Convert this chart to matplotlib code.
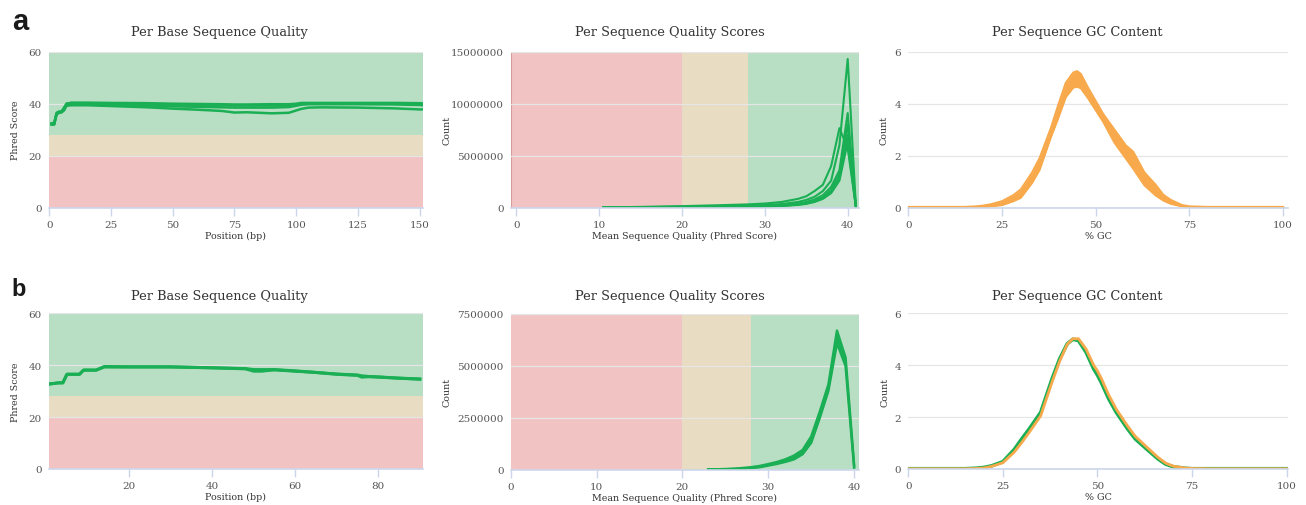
import numpy as np
import matplotlib.pyplot as plt
from matplotlib.ticker import FixedLocator

plt.rcParams['font.family'] = ['DejaVu Serif']

# ---- data -------------------------------------------------------------
# a: per base sequence quality (4 sample groups)
a_pos = [1, 2, 3, 4, 5, 6, 7, 9, 15, 25, 40, 50, 60, 70, 75, 80, 90, 97, 100, 102, 105, 110, 125, 140, 150, 151]
a_qual_1 = [32, 32, 36, 36.5, 36.7, 37.5, 40, 40.2, 40.2, 40.1, 39.9, 39.7, 39.6, 39.4, 39.3, 39.3, 39.3, 39.4, 39.7, 40, 40.1, 40.1, 40.1, 40.1, 40, 39.9]
a_qual_2 = [32.3, 32.3, 36.3, 36.8, 37, 38, 39.5, 39.8, 39.8, 39.6, 39.3, 39.0, 38.8, 38.6, 38.5, 38.5, 38.5, 38.7, 39.2, 39.6, 39.8, 39.8, 39.8, 39.7, 39.5, 39.4]
a_qual_3 = [32, 32, 36, 36.5, 36.7, 37.5, 39.2, 39.4, 39.4, 39.1, 38.6, 38.1, 37.7, 37.2, 36.6, 36.7, 36.3, 36.5, 37.4, 38.0, 38.5, 38.6, 38.5, 38.2, 37.8, 37.8]
a_qual_4 = [32.5, 32.5, 36.5, 37, 37, 38.5, 40, 40.4, 40.4, 40.3, 40.2, 40, 39.9, 39.8, 39.7, 39.7, 39.8, 39.8, 40, 40.3, 40.3, 40.3, 40.3, 40.3, 40.2, 40.1]

# a: per sequence quality scores (counts in millions)
a_score = [10.5, 15, 20, 25, 28, 30, 32, 34, 35, 36, 37, 38, 39, 40, 41]
a_count_1 = [0.03, 0.08, 0.15, 0.25, 0.32, 0.4, 0.55, 0.85, 1.1, 1.6, 2.2, 4.0, 7.65, 5.7, 0.02]
a_count_2 = [0.02, 0.05, 0.1, 0.15, 0.2, 0.25, 0.35, 0.55, 0.75, 1.05, 1.6, 2.6, 6.0, 14.3, 0.02]
a_count_3 = [0.01, 0.03, 0.06, 0.1, 0.13, 0.17, 0.25, 0.4, 0.55, 0.8, 1.2, 2.0, 3.6, 9.1, 0.02]
a_count_4 = [0.01, 0.03, 0.05, 0.08, 0.11, 0.14, 0.2, 0.33, 0.45, 0.65, 1.0, 1.7, 3.2, 8.0, 0.02]
a_count_5 = [0.01, 0.02, 0.04, 0.07, 0.1, 0.12, 0.18, 0.3, 0.4, 0.6, 0.9, 1.5, 2.8, 7.0, 0.02]
a_count_6 = [0.01, 0.02, 0.04, 0.06, 0.09, 0.11, 0.16, 0.27, 0.37, 0.55, 0.85, 1.4, 2.6, 6.3, 0.02]

# a: per sequence GC content (envelope of all samples)
a_gc = [0, 10, 15, 18, 20, 22, 25, 28, 30, 33, 35, 38, 40, 42, 44, 45, 46, 48, 50, 52, 55, 58, 60, 63, 66, 68, 70, 73, 75, 80, 90, 100]
a_gc_hi = [0.03, 0.03, 0.03, 0.05, 0.08, 0.13, 0.25, 0.48, 0.7, 1.35, 1.9, 3.05, 3.95, 4.8, 5.2, 5.25, 5.15, 4.6, 4.1, 3.6, 3.0, 2.4, 2.15, 1.35, 0.88, 0.5, 0.3, 0.1, 0.05, 0.03, 0.03, 0.03]
a_gc_lo = [0.0, 0.0, 0.0, 0.01, 0.02, 0.05, 0.1, 0.25, 0.38, 0.95, 1.45, 2.7, 3.45, 4.25, 4.62, 4.65, 4.6, 4.2, 3.75, 3.3, 2.5, 1.9, 1.5, 0.86, 0.47, 0.28, 0.15, 0.05, 0.02, 0.0, 0.0, 0.0]

# b: per base sequence quality
b_pos = [1, 3, 4, 5, 8, 9, 12, 14, 20, 30, 40, 48, 50, 52, 53, 55, 60, 65, 70, 75, 76, 78, 80, 85, 90]
b_qual_1 = [32.8, 33.2, 33.2, 36.5, 36.5, 38.1, 38.1, 39.5, 39.4, 39.4, 39.0, 38.6, 37.7, 37.7, 37.9, 38.2, 37.7, 37.2, 36.5, 36.1, 35.4, 35.6, 35.4, 35.0, 34.6]
b_qual_2 = [32.8, 33.2, 33.2, 36.5, 36.5, 38.1, 38.1, 39.3, 39.3, 39.3, 39.0, 38.7, 38.3, 38.3, 38.3, 38.3, 37.8, 37.2, 36.6, 36.2, 35.9, 35.6, 35.5, 35.0, 34.7]

# b: per sequence quality scores (millions)
b_score = [23, 24, 25, 26, 27, 28, 29, 30, 31, 32, 33, 34, 35, 36, 37, 38, 39, 40]
b_count_hi = [0.02, 0.02, 0.03, 0.05, 0.08, 0.12, 0.18, 0.27, 0.37, 0.5, 0.68, 0.95, 1.6, 2.8, 4.1, 6.7, 5.4, 0.2]
b_count_lo = [0.01, 0.01, 0.02, 0.03, 0.05, 0.08, 0.12, 0.2, 0.28, 0.38, 0.5, 0.75, 1.3, 2.5, 3.8, 6.1, 5.0, 0.1]

# b: per sequence GC content
b_gc = [0, 10, 15, 18, 20, 22, 25, 28, 30, 32, 35, 38, 40, 42, 43.5, 45, 47, 49, 50, 51, 53, 55, 58, 60, 63, 66, 68, 70, 73, 75, 80, 90, 100]
b_gc_green = [0.01, 0.01, 0.01, 0.03, 0.06, 0.12, 0.28, 0.75, 1.16, 1.55, 2.18, 3.47, 4.24, 4.82, 5.0, 4.95, 4.5, 3.86, 3.62, 3.34, 2.7, 2.18, 1.54, 1.16, 0.77, 0.39, 0.19, 0.09, 0.03, 0.01, 0.01, 0.01, 0.01]
b_gc_orange = [0.01, 0.01, 0.01, 0.02, 0.04, 0.1, 0.24, 0.65, 1.02, 1.42, 2.05, 3.35, 4.15, 4.8, 5.02, 5.02, 4.62, 4.0, 3.78, 3.5, 2.85, 2.3, 1.65, 1.26, 0.85, 0.45, 0.23, 0.11, 0.04, 0.02, 0.01, 0.01, 0.01]

# ---- style ------------------------------------------------------------
GREEN = '#1aaf54'
ORANGE = '#f7a94b'
BAND_G = '#b8dfc3'
BAND_T = '#e8dcc3'
BAND_R = '#f2c3c3'
GRID = '#e6e6e6'
AXLINE = '#ccd6eb'

fig = plt.figure(figsize=(13.06, 5.06), dpi=100)
W, H = 1306.0, 506.0


def add_ax(l, r, t, b):
    return fig.add_axes([l / W, 1 - b / H, (r - l) / W, (b - t) / H])


def style(ax, box, title, tpos, xlabel, ylabel, ylab_x, xt, yt, xlim, ylim, ylabels=None):
    l, r, t, b = box
    ax.set_xlim(*xlim)
    ax.set_ylim(*ylim)
    for s in ['top', 'right', 'left']:
        ax.spines[s].set_visible(False)
    ax.spines['bottom'].set_color(AXLINE)
    ax.spines['bottom'].set_linewidth(1.2)
    ax.spines['bottom'].set_zorder(5)
    ax.xaxis.set_major_locator(FixedLocator(xt))
    ax.set_yticks(yt)
    if ylabels is not None:
        ax.set_yticklabels(ylabels)
    ax.tick_params(axis='x', colors=AXLINE, length=6, width=1, labelcolor='#555555', labelsize=7.5, pad=2.5)
    ax.tick_params(axis='y', length=0, labelcolor='#555555', labelsize=7.5, pad=5)
    ax.grid(axis='y', color=GRID, lw=0.9)
    ax.set_axisbelow(True)
    fig.text(tpos[0] / W, 1 - tpos[1] / H, title, fontsize=9.3, color='#333333', ha='center', va='baseline')
    ax.set_xlabel(xlabel, fontsize=6.8, color='#333333', labelpad=1.5)
    ax.set_ylabel(ylabel, fontsize=6.8, color='#333333')
    # ylabel is anchored by its right-hand side, shift so its centre sits at ylab_x
    ax.yaxis.set_label_coords((ylab_x + 4.5 - l) / (r - l), 0.5)


# ---- row a ------------------------------------------------------------
box = (48.7, 422.7, 52.7, 208.7)
ax = add_ax(*box)
ax.axhspan(28, 60, color=BAND_G, zorder=0.1, lw=0)
ax.axhspan(20, 28, color=BAND_T, zorder=0.1, lw=0)
ax.axhspan(0, 20, color=BAND_R, zorder=0.1, lw=0)
for q in [a_qual_3, a_qual_2, a_qual_1, a_qual_4]:
    ax.plot(a_pos, q, color=GREEN, lw=1.8)
style(ax, box, 'Per Base Sequence Quality', (219, 36.3), 'Position (bp)', 'Phred Score', 16,
      [0, 25, 50, 75, 100, 125, 150], [0, 20, 40, 60], (-0.2, 151.2), (0, 60))

box = (510.7, 859.3, 52.7, 208.7)
ax = add_ax(*box)
ax.axvspan(-1, 20, color=BAND_R, zorder=0.1, lw=0)
ax.axvspan(20, 28, color=BAND_T, zorder=0.1, lw=0)
ax.axvspan(28, 45, color=BAND_G, zorder=0.1, lw=0)
ax.axvline(-0.62, color='#d69a9a', lw=1.5, zorder=0.2)
for c in [a_count_6, a_count_5, a_count_4, a_count_3, a_count_1, a_count_2]:
    ax.plot(a_score, np.array(c) * 1e6, color=GREEN, lw=1.5)
style(ax, box, 'Per Sequence Quality Scores', (670, 36.3), 'Mean Sequence Quality (Phred Score)', 'Count', 447,
      [0, 10, 20, 30, 40], [0, 5e6, 10e6, 15e6], (-0.68, 41.4), (0, 15e6),
      ['0', '5000000', '10000000', '15000000'])

box = (908.3, 1287.7, 52.7, 208.7)
ax = add_ax(*box)
ax.fill_between(a_gc, a_gc_lo, a_gc_hi, color=ORANGE, lw=0)
ax.plot(a_gc, a_gc_hi, color=ORANGE, lw=1.5)
ax.plot(a_gc, a_gc_lo, color=ORANGE, lw=1.5)
style(ax, box, 'Per Sequence GC Content', (1077, 36.3), '% GC', 'Count', 884,
      [0, 25, 50, 75, 100], [0, 2, 4, 6], (0, 101.2), (0, 6))

# ---- row b ------------------------------------------------------------
box = (48.7, 422.7, 314.3, 470)
ax = add_ax(*box)
ax.axhspan(28, 60, color=BAND_G, zorder=0.1, lw=0)
ax.axhspan(20, 28, color=BAND_T, zorder=0.1, lw=0)
ax.axhspan(0, 20, color=BAND_R, zorder=0.1, lw=0)
ax.plot(b_pos, b_qual_2, color=GREEN, lw=2.2)
ax.plot(b_pos, b_qual_1, color=GREEN, lw=2.2)
style(ax, box, 'Per Base Sequence Quality', (219, 300), 'Position (bp)', 'Phred Score', 16,
      [20, 40, 60, 80], [0, 20, 40, 60], (0.6, 90.7), (0, 60))

box = (510.7, 859.3, 315, 470.7)
ax = add_ax(*box)
ax.axvspan(-1, 20, color=BAND_R, zorder=0.1, lw=0)
ax.axvspan(20, 28, color=BAND_T, zorder=0.1, lw=0)
ax.axvspan(28, 45, color=BAND_G, zorder=0.1, lw=0)
ax.fill_between(b_score, np.array(b_count_lo) * 1e6, np.array(b_count_hi) * 1e6, color=GREEN, lw=0)
ax.plot(b_score, np.array(b_count_hi) * 1e6, color=GREEN, lw=1.8)
ax.plot(b_score, np.array(b_count_lo) * 1e6, color=GREEN, lw=1.8)
style(ax, box, 'Per Sequence Quality Scores', (670, 300), 'Mean Sequence Quality (Phred Score)', 'Count', 447,
      [0, 10, 20, 30, 40], [0, 2.5e6, 5e6, 7.5e6], (0, 40.6), (0, 7.5e6),
      ['0', '2500000', '5000000', '7500000'])

box = (908.3, 1287.7, 314.3, 470)
ax = add_ax(*box)
ax.plot(b_gc, b_gc_green, color=GREEN, lw=2.6)
ax.plot(b_gc, b_gc_orange, color=ORANGE, lw=2.0)
style(ax, box, 'Per Sequence GC Content', (1077, 300), '% GC', 'Count', 885,
      [0, 25, 50, 75, 100], [0, 2, 4, 6], (0, 100.3), (0, 6))

# panel letters
fig.text(12 / W, 1 - 29.5 / H, 'a', fontsize=21, fontweight='bold', family='Liberation Sans', color='#1a1a1a')
fig.text(11 / W, 1 - 296.5 / H, 'b', fontsize=17, fontweight='bold', family='Liberation Sans', color='#1a1a1a')

fig.savefig('out.png', dpi=100)
